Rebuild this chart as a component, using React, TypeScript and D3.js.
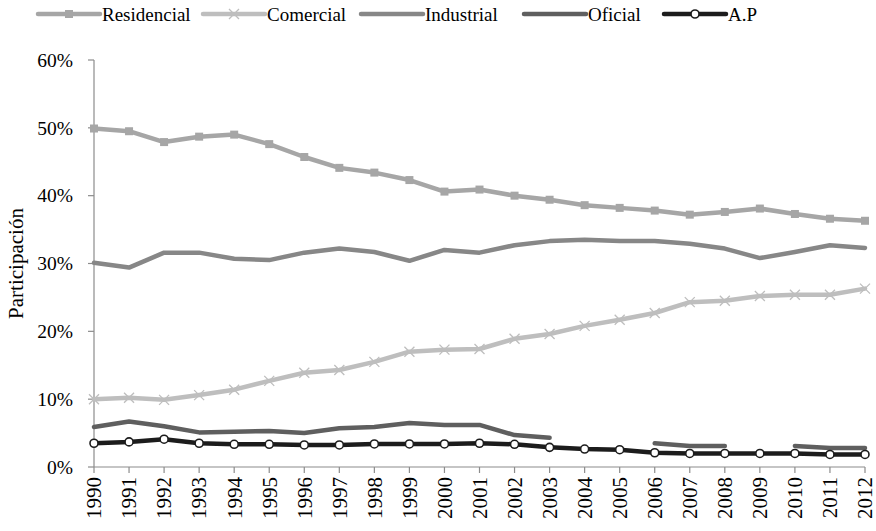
import { useEffect } from "react";
import * as d3 from "d3";

const years = [1990, 1991, 1992, 1993, 1994, 1995, 1996, 1997, 1998, 1999, 2000, 2001, 2002, 2003, 2004, 2005, 2006, 2007, 2008, 2009, 2010, 2011, 2012];

const residencial = [49.9, 49.5, 47.9, 48.7, 49.0, 47.6, 45.7, 44.1, 43.4, 42.3, 40.6, 40.9, 40.0, 39.4, 38.6, 38.2, 37.8, 37.2, 37.6, 38.1, 37.3, 36.6, 36.3];
const comercial = [10.0, 10.2, 9.9, 10.6, 11.4, 12.7, 13.9, 14.3, 15.5, 17.0, 17.3, 17.4, 18.9, 19.6, 20.8, 21.7, 22.7, 24.3, 24.5, 25.2, 25.4, 25.4, 26.3];
const industrial = [30.1, 29.4, 31.6, 31.6, 30.7, 30.5, 31.6, 32.2, 31.7, 30.4, 32.0, 31.6, 32.7, 33.3, 33.5, 33.3, 33.3, 32.9, 32.2, 30.8, 31.7, 32.7, 32.3];
const oficial = [5.9, 6.7, 6.0, 5.1, 5.2, 5.3, 5.0, 5.7, 5.9, 6.5, 6.2, 6.2, 4.7, 4.3, null, null, 3.5, 3.1, 3.1, null, 3.1, 2.8, 2.8];
const alumbrado = [3.5, 3.7, 4.1, 3.5, 3.35, 3.35, 3.25, 3.25, 3.4, 3.4, 3.4, 3.5, 3.35, 2.9, 2.65, 2.55, 2.1, 2.0, 2.0, 2.0, 2.0, 1.85, 1.85];

const yTicks = [0, 10, 20, 30, 40, 50, 60];

type Marker = "square" | "x" | "circle" | "none";
const series: { name: string; values: (number | null)[]; color: string; marker: Marker }[] = [
  { name: "Residencial", values: residencial, color: "#a6a6a6", marker: "square" },
  { name: "Comercial", values: comercial, color: "#bebebe", marker: "x" },
  { name: "Industrial", values: industrial, color: "#878787", marker: "none" },
  { name: "Oficial", values: oficial, color: "#5f5f5f", marker: "none" },
  { name: "A.P", values: alumbrado, color: "#1c1c1c", marker: "circle" },
];

const W = 876, H = 531;
const m = { left: 94, right: 11, top: 60, bottom: 64 };
const font = "'Liberation Serif', 'Times New Roman', serif";
const axisColor = "#8c8c8c";

function MarkerShape({ type, x, y, color }: { type: Marker; x: number; y: number; color: string }) {
  if (type === "square") return <rect x={x - 4} y={y - 4} width={8} height={8} fill={color} />;
  if (type === "x")
    return (
      <path d={`M${x - 5},${y - 5}L${x + 5},${y + 5}M${x - 5},${y + 5}L${x + 5},${y - 5}`} stroke={color} strokeWidth={1.3} fill="none" />
    );
  if (type === "circle") return <circle cx={x} cy={y} r={4} fill="#fff" stroke="#1c1c1c" strokeWidth={1.6} />;
  return null;
}

export default function App() {
  useEffect(() => {
    document.body.style.margin = "0";
  }, []);

  const x = d3.scaleLinear().domain([years[0], years[years.length - 1]]).range([m.left, W - m.right]);
  const y = d3.scaleLinear().domain([0, 60]).range([H - m.bottom, m.top]);

  const line = d3
    .line<number | null>()
    .defined((d) => d != null)
    .x((_, i) => x(years[i]))
    .y((d) => y(d as number));

  const legendX = [38, 203, 361, 524, 664];

  return (
    <svg width={W} height={H} style={{ display: "block", background: "#fff" }} fontFamily={font}>
      {/* axes */}
      <line x1={m.left} x2={m.left} y1={y(60)} y2={y(0)} stroke={axisColor} strokeWidth={1.2} />
      <line x1={m.left} x2={x(2012)} y1={y(0)} y2={y(0)} stroke={axisColor} strokeWidth={1.2} />
      {yTicks.map((t) => (
        <g key={t}>
          <line x1={m.left - 6} x2={m.left} y1={y(t)} y2={y(t)} stroke={axisColor} strokeWidth={1.2} />
          <text x={m.left - 21} y={y(t)} dy="0.35em" textAnchor="end" fontSize={19.5} fill="#000">
            {t}%
          </text>
        </g>
      ))}
      {years.map((yr) => (
        <g key={yr}>
          <line x1={x(yr)} x2={x(yr)} y1={y(0)} y2={y(0) + 6} stroke={axisColor} strokeWidth={1.2} />
          <text
            transform={`translate(${x(yr)},${y(0) + 10}) rotate(-90)`}
            dy="0.35em"
            textAnchor="end"
            fontSize={21}
            fill="#000"
          >
            {yr}
          </text>
        </g>
      ))}
      <text transform={`translate(16,${(y(0) + y(60)) / 2}) rotate(-90)`} dy="0.35em" textAnchor="middle" fontSize={21}>
        Participación
      </text>

      {/* series */}
      {series.map((s) => (
        <g key={s.name}>
          <path d={line(s.values) ?? ""} fill="none" stroke={s.color} strokeWidth={4.5} strokeLinejoin="round" strokeLinecap="round" />
          {s.values.map((v, i) =>
            v == null ? null : <MarkerShape key={i} type={s.marker} x={x(years[i])} y={y(v)} color={s.color} />
          )}
        </g>
      ))}

      {/* legend */}
      {series.map((s, i) => (
        <g key={s.name} transform={`translate(${legendX[i]},14)`}>
          <line x1={0} x2={62} y1={0} y2={0} stroke={s.color} strokeWidth={4.5} strokeLinecap="round" />
          <MarkerShape type={s.marker} x={31} y={0} color={s.color} />
          <text x={64} y={0} dy="0.35em" fontSize={19} fill="#000">
            {s.name}
          </text>
        </g>
      ))}
    </svg>
  );
}
